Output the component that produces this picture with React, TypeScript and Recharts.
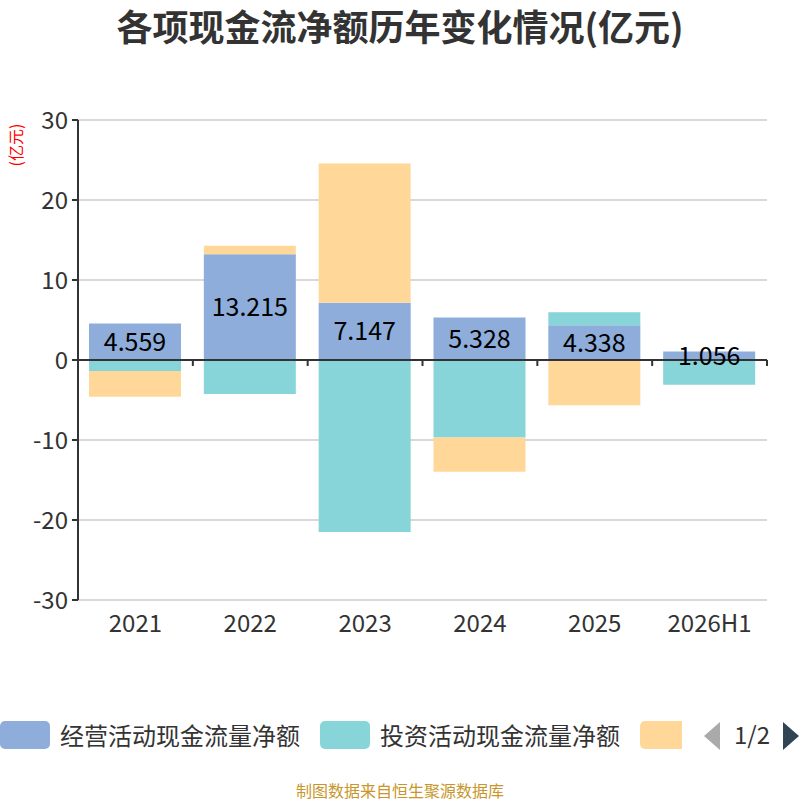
import React from 'react';
import { BarChart, Bar, XAxis, YAxis, CartesianGrid, ReferenceLine, LabelList } from 'recharts';

const categories = ['2021', '2022', '2023', '2024', '2025', '2026H1'];
const operating = [4.559, 13.215, 7.147, 5.328, 4.338, 1.056];
const investing = [-1.38, -4.25, -21.5, -9.7, 1.62, -3.08];
const financing = [-3.2, 1.07, 17.43, -4.26, -5.67, 0];
const seriesNames = ['经营活动现金流量净额', '投资活动现金流量净额', '筹资活动现金流量净额'];
const seriesColors = ['#8eadda', '#87d5d8', '#ffd899'];
const yTicks = [-30, -20, -10, 0, 10, 20, 30];

const data = categories.map((c, i) => ({
  name: c,
  op: operating[i],
  inv: investing[i],
  fin: financing[i],
}));

const FONT = '"Noto Sans CJK SC", "Noto Sans", sans-serif';

const ZeroAxis = (props: any) => {
  const { x1, x2, y1 } = props;
  const n = categories.length;
  const step = (x2 - x1) / n;
  const ticks = [];
  for (let i = 0; i <= n; i++) {
    const x = x1 + step * i;
    ticks.push(<line key={i} x1={x} x2={x} y1={y1} y2={y1 + 6} stroke="#333" strokeWidth={2} />);
  }
  return (
    <g>
      <line x1={x1} x2={x2} y1={y1} y2={y1} stroke="#333" strokeWidth={2} />
      {ticks}
    </g>
  );
};

export default function App() {
  return (
    <div style={{ position: 'absolute', left: 0, top: 0, width: 800, height: 800, background: '#fff', fontFamily: FONT, overflow: 'hidden' }}>
      <div style={{ position: 'absolute', top: 0, left: 0, width: 800, textAlign: 'center', fontSize: 36, lineHeight: '50px', fontWeight: 'bold', color: '#333' }}>
        各项现金流净额历年变化情况(亿元)
      </div>
      <div style={{ position: 'absolute', left: 3, top: 120, width: 24, height: 50, display: 'flex', alignItems: 'center', justifyContent: 'center' }}>
        <div style={{ transform: 'rotate(-90deg)', whiteSpace: 'nowrap', color: '#ff0000', fontSize: 16 }}>(亿元)</div>
      </div>
      <BarChart
        width={800}
        height={680}
        data={data}
        stackOffset="sign"
        margin={{ top: 120, right: 33, left: 18, bottom: 40 }}
        style={{ position: 'absolute', left: 0, top: 0 }}
      >
        <CartesianGrid horizontal vertical={false} stroke="#cccccc" strokeWidth={1.5} />
        <XAxis
          dataKey="name"
          axisLine={false}
          tickLine={false}
          height={40}
          tick={{ fontSize: 24, fill: '#333', fontFamily: FONT }}
          tickMargin={9}
        />
        <YAxis
          width={60}
          domain={[-30, 30]}
          ticks={yTicks}
          interval={0}
          axisLine={{ stroke: '#333', strokeWidth: 2 }}
          tickLine={{ stroke: '#333', strokeWidth: 2 }}
          tickSize={6}
          tick={{ fontSize: 24, fill: '#333', fontFamily: FONT }}
          tickMargin={4}
        />
        <Bar dataKey="op" stackId="a" fill={seriesColors[0]} barSize={92} isAnimationActive={false}>
          <LabelList dataKey="op" position="center" fill="#000" fontSize={25} fontFamily={FONT} />
        </Bar>
        <Bar dataKey="inv" stackId="a" fill={seriesColors[1]} barSize={92} isAnimationActive={false} />
        <Bar dataKey="fin" stackId="a" fill={seriesColors[2]} barSize={92} isAnimationActive={false} />
        <ReferenceLine y={0} shape={(p: any) => <ZeroAxis {...p} />} />
      </BarChart>
      <div style={{ position: 'absolute', top: 720, left: 0, width: 682, height: 32, overflow: 'hidden', whiteSpace: 'nowrap' }}>
        {seriesNames.map((name, i) => (
          <span key={name} style={{ display: 'inline-flex', alignItems: 'center', marginRight: 20, verticalAlign: 'top' }}>
            <span style={{ display: 'inline-block', width: 50, height: 28, borderRadius: 5, background: seriesColors[i], marginRight: 10 }} />
            <span style={{ fontSize: 24, color: '#333', lineHeight: '30px' }}>{name}</span>
          </span>
        ))}
      </div>
      <svg style={{ position: 'absolute', left: 700, top: 720 }} width={100} height={32}>
        <polygon points="20,2 20,30 4,16" fill="#aaa" />
        <text x={52} y={24} textAnchor="middle" fontSize={24} fill="#333" fontFamily={FONT}>1/2</text>
        <polygon points="83,2 83,30 99,16" fill="#2f4554" />
      </svg>
      <div style={{ position: 'absolute', top: 778, left: 0, width: 800, textAlign: 'center', fontSize: 16, color: '#c8962a' }}>
        制图数据来自恒生聚源数据库
      </div>
    </div>
  );
}
